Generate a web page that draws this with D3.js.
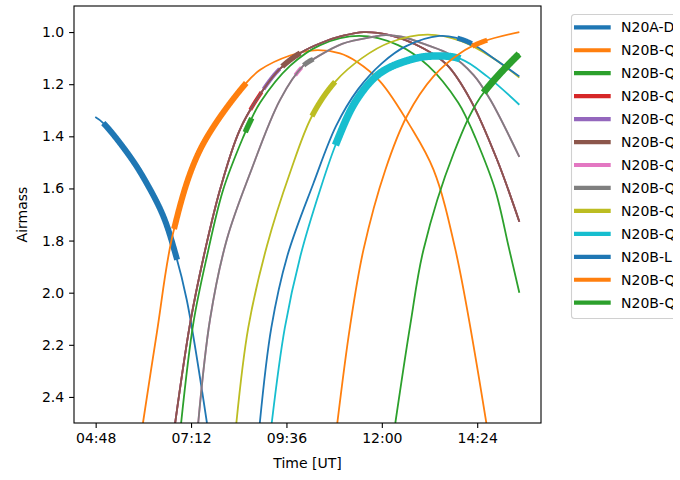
<!DOCTYPE html>
<html>
<head>
<meta charset="utf-8">
<script src="https://cdn.jsdelivr.net/npm/d3@7"></script>
<style>
  body { margin: 0; background: #fff; }
  svg { display: block; }
  text { font-family: "DejaVu Sans", sans-serif; fill: #000; }
</style>
</head>
<body>
<svg id="chart" width="680" height="480"></svg>
<script>
// Airmass tracks for the night, [hour UT, airmass]
const trackN20A_D   = [[4.79,1.326],[4.99,1.349],[5.66,1.477],[6.08,1.579],[6.50,1.706],[6.80,1.847],[7.09,2.026],[7.60,2.5]];
const trackQ1       = [[5.99,2.5],[6.34,2.153],[6.75,1.770],[7.43,1.451],[8.59,1.195],[8.94,1.145],[9.69,1.09],[10.3,1.07],[10.95,1.082],[11.37,1.114],[11.96,1.190],[12.72,1.362],[13.30,1.528],[13.85,1.834],[14.63,2.5]];
const trackQ2       = [[6.95,2.5],[7.26,2.115],[7.60,1.86],[8.01,1.604],[8.52,1.40],[8.71,1.336],[8.94,1.27],[9.69,1.13],[10.45,1.05],[11.43,1.015],[12.41,1.05],[13.17,1.13],[13.92,1.27],[14.15,1.336],[14.34,1.40],[14.85,1.604],[15.2,1.83],[15.46,2.0]];
const trackQ5       = [[6.80,2.5],[7.18,2.115],[7.52,1.86],[7.93,1.604],[8.43,1.374],[9.02,1.22],[9.44,1.14],[9.95,1.08],[10.5,1.04],[11.0,1.015],[11.55,1.0],[12.2,1.012],[13.05,1.063],[13.64,1.126],[14.23,1.26],[14.90,1.49],[15.46,1.728]];
const trackQ7       = [[7.38,2.5],[7.68,2.10],[8.10,1.796],[8.69,1.54],[9.44,1.26],[10.02,1.13],[10.32,1.10],[11.0,1.045],[11.79,1.018],[12.1,1.012],[12.5,1.018],[13.14,1.05],[13.7,1.085],[14.31,1.165],[14.73,1.26],[15.46,1.479]];
const trackQ8       = [[8.34,2.5],[8.64,2.134],[9.11,1.82],[9.69,1.54],[10.24,1.323],[10.83,1.19],[11.5,1.10],[12.2,1.04],[13.15,1.01],[14.0,1.035],[14.8,1.10],[15.46,1.175]];
const trackQ9       = [[9.23,2.5],[9.56,2.134],[9.95,1.86],[10.45,1.604],[10.87,1.42],[11.37,1.259],[11.96,1.157],[12.72,1.106],[13.3,1.092],[13.98,1.103],[14.65,1.17],[15.46,1.279]];
const trackL        = [[8.93,2.5],[9.22,2.134],[9.62,1.86],[10.28,1.58],[10.85,1.36],[11.4,1.22],[12.0,1.12],[12.6,1.055],[13.45,1.015],[13.89,1.023],[14.27,1.045],[14.9,1.11],[15.46,1.17]];
const trackQ10      = [[10.88,2.5],[11.2,2.13],[11.54,1.834],[12.09,1.528],[12.63,1.323],[13.30,1.17],[13.98,1.08],[14.56,1.036],[15.46,1.0]];
const trackQ11      = [[12.34,2.5],[12.72,2.12],[13.05,1.834],[13.81,1.464],[14.48,1.25],[15.46,1.083]];

// Programs in plotting order; some targets share a track with others
const programNames  = ["N20A-D","N20B-Q","N20B-Q","N20B-Q","N20B-Q","N20B-Q","N20B-Q","N20B-Q","N20B-Q","N20B-Q","N20B-L","N20B-Q","N20B-Q"];
const programTracks = [trackN20A_D, trackQ1, trackQ2, trackQ5, trackQ5, trackQ5, trackQ7, trackQ7, trackQ8, trackQ9, trackL, trackQ10, trackQ11];
// Scheduled window for each program, hours UT
const windowStart   = [4.99, 6.77, 8.56, 8.69, 9.02, 9.49, 9.82, 10.03, 10.24, 10.83, 13.89, 14.27, 14.56];
const windowEnd     = [6.85, 8.59, 8.73, 8.98, 9.44, 9.95, 9.99, 10.28, 10.83, 13.98, 14.27, 14.65, 15.47];

// Axis ticks
const xTickHours  = [4.8, 7.2, 9.6, 12.0, 14.4];
const xTickLabels = ["04:48", "07:12", "09:36", "12:00", "14:24"];
const yTickValues = [1.0, 1.2, 1.4, 1.6, 1.8, 2.0, 2.2, 2.4];

// Styling
const palette = ["#1f77b4","#ff7f0e","#2ca02c","#d62728","#9467bd","#8c564b","#e377c2","#7f7f7f","#bcbd22","#17becf"];
const windowWidth = [6, 6, 5.5, 4, 4, 5.5, 4, 5, 5.5, 7.5, 5, 5, 7];

const plot = { left: 74, right: 541, top: 6, bottom: 423 };
const svg = d3.select("#chart");

const x = d3.scaleLinear().domain([4.255, 16.005]).range([plot.left, plot.right]);
const y = d3.scaleLinear().domain([0.9, 2.5]).range([plot.top, plot.bottom]);

const defs = svg.append("defs");
defs.append("clipPath").attr("id", "plot-clip")
  .append("rect")
  .attr("x", plot.left).attr("y", plot.top)
  .attr("width", plot.right - plot.left).attr("height", plot.bottom - plot.top);
defs.append("clipPath").attr("id", "legend-clip")
  .append("rect")
  .attr("x", 0).attr("y", 0).attr("width", 673).attr("height", 480);

const line = d3.line()
  .x(d => x(d[0]))
  .y(d => y(d[1]))
  .curve(d3.curveCatmullRom.alpha(0.5));

// Portion of a drawn track lying between two screen x positions
function trackSegment(node, x0, x1) {
  const total = node.getTotalLength();
  const pts = [];
  for (let s = 0; s <= total; s += 0.5) {
    const p = node.getPointAtLength(s);
    if (p.x >= x0 && p.x <= x1) pts.push([p.x, p.y]);
  }
  return pts;
}

const curves = svg.append("g").attr("clip-path", "url(#plot-clip)");

programNames.forEach((_, i) => {
  const color = palette[i % palette.length];
  const g = curves.append("g");
  const thin = g.append("path")
    .attr("d", line(programTracks[i]))
    .attr("fill", "none")
    .attr("stroke", color)
    .attr("stroke-width", 1.8);
  const seg = trackSegment(thin.node(), x(windowStart[i]), x(windowEnd[i]));
  g.append("path")
    .attr("d", d3.line()(seg))
    .attr("fill", "none")
    .attr("stroke", color)
    .attr("stroke-linejoin", "round")
    .attr("stroke-width", windowWidth[i]);
});

// Axes
const xAxis = d3.axisBottom(x)
  .tickValues(xTickHours)
  .tickFormat((d, i) => xTickLabels[i])
  .tickSize(4.9).tickSizeOuter(0).tickPadding(4.9);
const yAxis = d3.axisLeft(y)
  .tickValues(yTickValues)
  .tickFormat(d3.format(".1f"))
  .tickSize(4.9).tickSizeOuter(0).tickPadding(4.9);

const gx = svg.append("g").attr("transform", `translate(0,${plot.bottom})`).call(xAxis);
const gy = svg.append("g").attr("transform", `translate(${plot.left},0)`).call(yAxis);
[gx, gy].forEach(g => {
  g.select(".domain").remove();
  g.selectAll(".tick line").attr("stroke", "#000").attr("stroke-width", 1.1);
  g.selectAll(".tick text").attr("font-size", 14).attr("font-family", "DejaVu Sans, sans-serif").attr("fill", "#000");
});

svg.append("rect")
  .attr("x", plot.left).attr("y", plot.top)
  .attr("width", plot.right - plot.left).attr("height", plot.bottom - plot.top)
  .attr("fill", "none").attr("stroke", "#000").attr("stroke-width", 1.1);

svg.append("text")
  .attr("x", (plot.left + plot.right) / 2).attr("y", 468)
  .attr("text-anchor", "middle").attr("font-size", 14)
  .text("Time [UT]");

svg.append("text")
  .attr("transform", `translate(27,${(plot.top + plot.bottom) / 2}) rotate(-90)`)
  .attr("text-anchor", "middle").attr("font-size", 14)
  .text("Airmass");

// Legend
const legend = svg.append("g").attr("clip-path", "url(#legend-clip)")
  .append("g").attr("transform", "translate(571.5,14.5)");
legend.append("rect")
  .attr("x", 0).attr("y", 0).attr("width", 160).attr("height", 304)
  .attr("rx", 3).attr("fill", "#fff").attr("fill-opacity", 0.8)
  .attr("stroke", "#d0d0d0").attr("stroke-width", 1.1);

programNames.forEach((name, i) => {
  const ly = 12.8 + i * 22.95;
  legend.append("line")
    .attr("x1", 2.5).attr("x2", 39.2).attr("y1", ly).attr("y2", ly)
    .attr("stroke", palette[i % palette.length]).attr("stroke-width", 4.2);
  legend.append("text")
    .attr("x", 49.5).attr("y", ly).attr("dy", "0.36em")
    .attr("font-size", 14)
    .text(name);
});
</script>
</body>
</html>
